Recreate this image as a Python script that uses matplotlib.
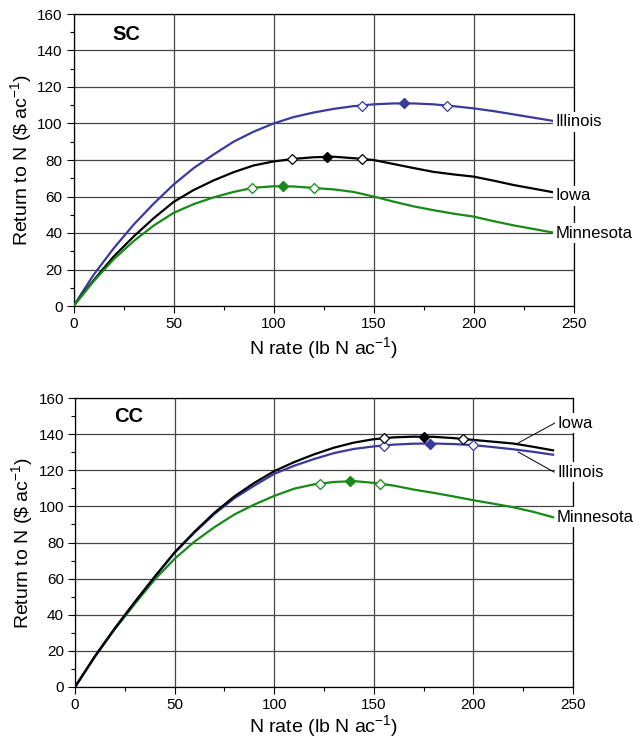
import numpy as np
import matplotlib
matplotlib.use("Agg")
import matplotlib.pyplot as plt
from matplotlib.ticker import MultipleLocator

plt.rcParams['font.family'] = ['Liberation Sans', 'DejaVu Sans']
plt.rcParams['mathtext.fontset'] = 'custom'
plt.rcParams['mathtext.rm'] = 'Liberation Sans'
plt.rcParams['mathtext.default'] = 'regular'

# N rate grid (lb N/ac)
n_rate = [0, 10, 20, 30, 40, 50, 60, 70, 80, 90, 100, 110, 120,
          130, 140, 150, 160, 170, 180, 190, 200, 210, 220, 230, 240]

# SC panel, return to N ($/ac)
sc_illinois = [0, 17, 31.5, 44.5, 56, 66.5, 75.5, 83, 90, 95.5, 100, 103.5, 106,
               108, 109.5, 110.5, 111, 111, 110.5, 109.5, 108.3, 106.8, 105, 103.2, 101.4]
sc_iowa = [0, 14, 27, 38, 48, 57, 63.5, 68.8, 73.3, 77, 79.2, 80.6, 81.5,
           81.8, 81, 80, 77.8, 75.6, 73.5, 72.1, 70.9, 68.7, 66.3, 64.3, 62.3]
sc_minnesota = [0, 13.5, 25.5, 35.5, 44, 51, 55.8, 59.5, 62.5, 64.8, 65.6, 65.5, 64.7,
                63.9, 62.5, 60, 57.2, 54.6, 52.5, 50.6, 49, 46.5, 44.2, 42.2, 40.2]

# CC panel
cc_iowa = [0, 17, 32.5, 47, 61, 74.5, 86, 96.5, 105.5, 113, 119.5, 124.5, 128.8,
           132.5, 135.3, 137.2, 138.2, 138.6, 138.5, 137.8, 136.8, 135.8, 134.8, 133, 131]
cc_illinois = [0, 17, 32.5, 47, 61, 74.3, 85.5, 95.8, 104.5, 111.5, 118, 122.5, 126.2,
               129.5, 131.8, 133.2, 134.2, 134.7, 134.8, 134.5, 133.9, 132.8, 131.6, 130.2, 128.6]
cc_minnesota = [0, 16.8, 32, 46, 59.5, 71, 80.5, 88.5, 95.5, 101, 105.8, 109.8, 112.2,
                113.5, 114, 113, 111.5, 109.3, 107.5, 105.5, 103.4, 101.5, 99.5, 97, 94]

# MRTN (filled) and profitable range ends (open)
sc_mrtn_x = {'Illinois': 165, 'Iowa': 126.5, 'Minnesota': 104.5}
sc_mrtn_y = {'Illinois': 111, 'Iowa': 81.8, 'Minnesota': 65.7}
sc_range_x = {'Illinois': [144, 186.5], 'Iowa': [109, 144], 'Minnesota': [89, 120]}
sc_range_y = {'Illinois': [109.8, 109.8], 'Iowa': [80.6, 80.6], 'Minnesota': [64.8, 64.7]}

cc_mrtn_x = {'Illinois': 178, 'Iowa': 175, 'Minnesota': 138}
cc_mrtn_y = {'Illinois': 134.8, 'Iowa': 138.6, 'Minnesota': 114}
cc_range_x = {'Illinois': [155, 200], 'Iowa': [155, 195], 'Minnesota': [123, 153]}
cc_range_y = {'Illinois': [133.7, 133.9], 'Iowa': [137.7, 137.5], 'Minnesota': [112.6, 112.6]}

colors = {'Illinois': '#3a3a9e', 'Iowa': 'black', 'Minnesota': '#178a17'}

W, H = 633, 741
fig = plt.figure(figsize=(W / 100, H / 100), dpi=100)
ax1 = fig.add_axes([73.5 / W, (H - 306) / H, 500 / W, 292 / H])
ax2 = fig.add_axes([75 / W, (H - 687) / H, 498 / W, 289 / H])


def style_axes(ax, pad):
    ax.set_xlim(0, 250)
    ax.set_ylim(0, 160)
    ax.xaxis.set_major_locator(MultipleLocator(50))
    ax.xaxis.set_minor_locator(MultipleLocator(25))
    ax.yaxis.set_major_locator(MultipleLocator(20))
    ax.yaxis.set_minor_locator(MultipleLocator(10))
    ax.tick_params(which='major', length=5, width=0.8, labelsize=11, direction='out', pad=3)
    ax.tick_params(which='minor', length=3, width=0.8, direction='out')
    ax.tick_params(top=False, right=False, which='both')
    ax.grid(True, which='major', color='#454545', linewidth=0.9)
    ax.set_axisbelow(True)
    for s in ax.spines.values():
        s.set_linewidth(0.9)
        s.set_zorder(2.6)
    ax.set_xlabel('N rate (lb N ac$^{-1}$)', fontsize=14, labelpad=pad)
    ax.set_ylabel(r'Return to N (\$ ac$^{-1}$)', fontsize=14)
    ax.yaxis.set_label_coords(-0.08, 0.5)


bbox = dict(boxstyle='square,pad=0.15', fc='white', ec='none')

# SC panel
style_axes(ax1, 3)
for name, vals in [('Illinois', sc_illinois), ('Iowa', sc_iowa), ('Minnesota', sc_minnesota)]:
    c = colors[name]
    ax1.plot(n_rate, vals, color=c, lw=1.6, zorder=3)
    ax1.plot(sc_range_x[name], sc_range_y[name], 'D', ms=5, mfc='white', mec=c, mew=0.9, zorder=4)
    ax1.plot(sc_mrtn_x[name], sc_mrtn_y[name], 'D', ms=5.5, mfc=c, mec=c, zorder=4)
ax1.text(241, 101, 'Illinois', fontsize=12, va='center', ha='left', bbox=bbox, zorder=5, clip_on=False)
ax1.text(241, 60.5, 'Iowa', fontsize=12, va='center', ha='left', bbox=bbox, zorder=5, clip_on=False)
ax1.text(241, 40, 'Minnesota', fontsize=12, va='center', ha='left', bbox=bbox, zorder=5, clip_on=False)
ax1.text(19.5, 149, 'SC', fontsize=14.5, fontweight='bold', va='center', ha='left')

# CC panel
style_axes(ax2, 1)
for name, vals in [('Minnesota', cc_minnesota), ('Illinois', cc_illinois), ('Iowa', cc_iowa)]:
    c = colors[name]
    ax2.plot(n_rate, vals, color=c, lw=1.6, zorder=3)
    ax2.plot(cc_range_x[name], cc_range_y[name], 'D', ms=5, mfc='white', mec=c, mew=0.9, zorder=4)
    ax2.plot(cc_mrtn_x[name], cc_mrtn_y[name], 'D', ms=5.5, mfc=c, mec=c, zorder=4)
ax2.plot([222.5, 241], [135.1, 146.2], color='black', lw=0.7, zorder=4, clip_on=False)
ax2.plot([222.5, 240.5], [130.1, 119], color='black', lw=0.7, zorder=4, clip_on=False)
ax2.text(242, 146, 'Iowa', fontsize=12, va='center', ha='left', bbox=bbox, zorder=5, clip_on=False)
ax2.text(242, 119, 'Illinois', fontsize=12, va='center', ha='left', bbox=bbox, zorder=5, clip_on=False)
ax2.text(242, 94, 'Minnesota', fontsize=12, va='center', ha='left', bbox=bbox, zorder=5, clip_on=False)
ax2.text(19.5, 149.5, 'CC', fontsize=14.5, fontweight='bold', va='center', ha='left')

fig.savefig('out.png', dpi=100)
